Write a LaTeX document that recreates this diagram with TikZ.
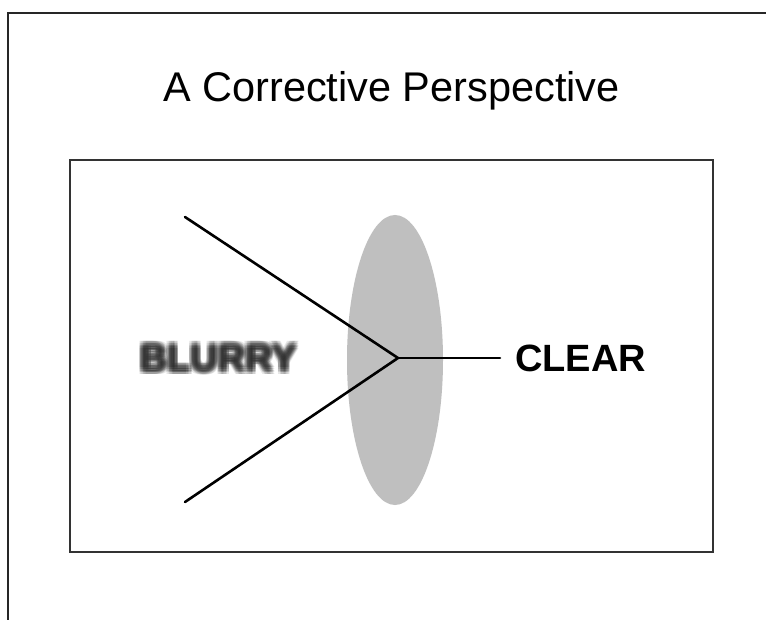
\documentclass[tikz,border=0pt]{standalone}
\usepackage{fontspec}
\setmainfont{Liberation Sans}
\newcommand\blurcopy[2]{\rlap{\kern#1pt\raisebox{#2pt}{BLURRY}}}
\newcommand\blurword{%
  \foreach \dx in {-3,-1.5,0,1.5,3}{%
    \foreach \dy in {-3,-1.5,0,1.5,3}{\blurcopy{\dx}{\dy}}}%
  \phantom{BLURRY}}
\begin{document}
\begin{tikzpicture}[x=1pt,y=-1pt,
  frame/.style={line width=2pt,draw=black!80},
  ray/.style={line width=2.6pt,black,line cap=round},
  big/.style={font=\fontsize{38}{40}\selectfont\bfseries,inner sep=0pt,anchor=base west}]
\useasboundingbox (0,0) rectangle (766,620);
\fill[white] (0,0) rectangle (766,620);
\draw[line width=2.2pt,black!85] (8,620) -- (8,13) -- (766,13);
\node[font=\fontsize{41.5}{44}\selectfont,inner sep=0pt,anchor=base] (title) at (391.5,102) {A Corrective Perspective};
\draw[frame] (70,160) rectangle (713,552);
\fill[black!25] (395,360) ellipse [x radius=48, y radius=145];
\coordinate (v) at (398,358);
\coordinate (a) at (185,217);
\coordinate (b) at (185,502);
\coordinate (c) at (500,358);
\draw[ray] (a) -- (v) -- (b);
\draw[ray] (v) -- (c);
\node[big] (clear) at (515,371) {CLEAR};
\node[big,text=black!85,text opacity=0.11] (blurry) at (140,371) {\blurword};
\end{tikzpicture}
\end{document}
